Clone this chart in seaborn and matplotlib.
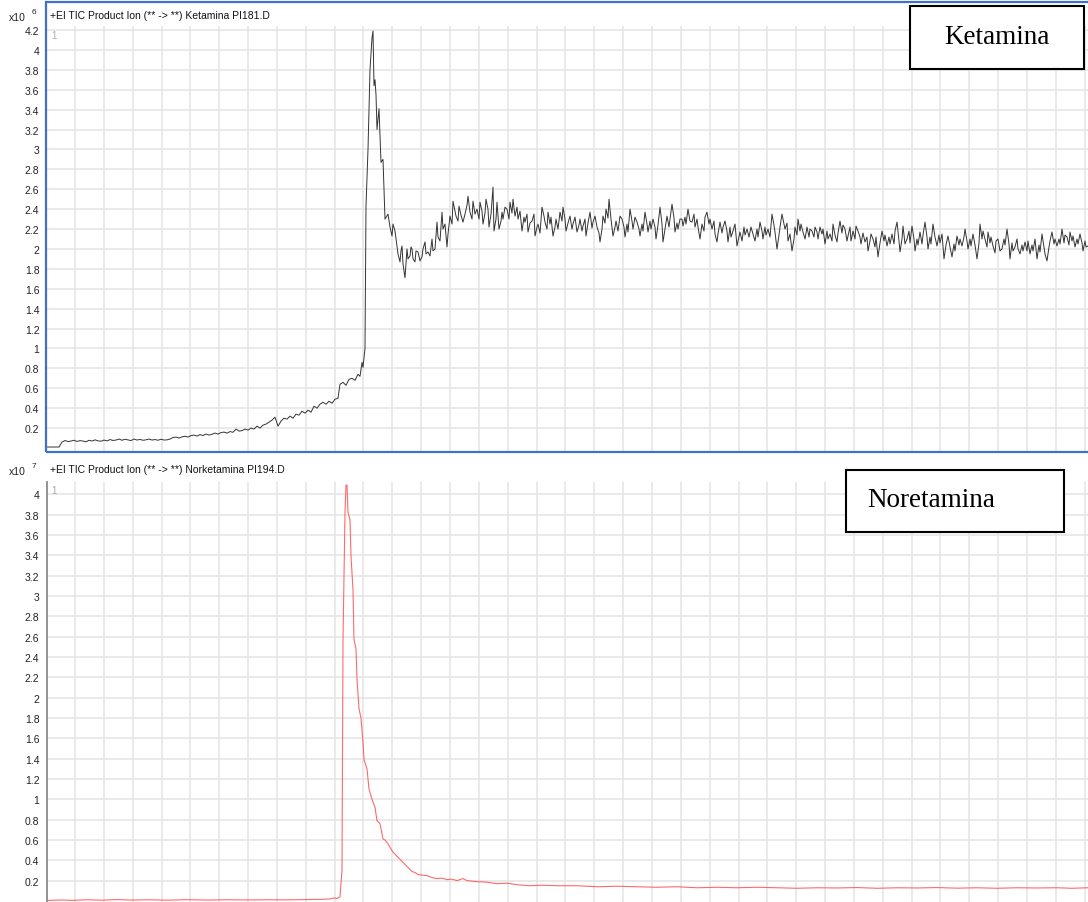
import numpy as np
import pandas as pd
import matplotlib
matplotlib.use("Agg")
import matplotlib.pyplot as plt
from matplotlib.patches import Rectangle
from matplotlib.ticker import MultipleLocator, FixedLocator
import seaborn as sns

# --- acquisition clock (scan number -> minutes) ---
T0 = 2.903
SCAN_DT = 0.1 / 28.85
N_SCANS = 1041

# --- Ketamina PI181 (x10^6) ---
# baseline + slow rise before the peak
ket_scan_pre = [
    0, 12, 15, 18, 21, 24, 27, 30, 33, 36, 39, 42, 45, 48, 51, 54, 57, 60, 63,
    66, 69, 72, 75, 78, 81, 84, 87, 90, 93, 96, 99, 102, 105, 108, 111, 114,
    117, 120, 123,
    126, 129, 132, 135, 138, 141, 144, 147, 150, 153, 156, 159, 162, 165, 168,
    171, 174, 177, 180, 183, 186, 189, 192, 195, 198, 201, 204, 207, 210, 213,
    216, 219, 222, 225, 228, 231, 234, 237, 240, 243, 246, 249, 252, 255, 258,
    261, 264, 267, 270, 273, 276, 279, 282, 285, 288, 291,
]
ket_val_pre = [
    0.01, 0.01, 0.06, 0.075, 0.065, 0.07, 0.078, 0.066, 0.074, 0.07,
    0.062, 0.078, 0.07, 0.082, 0.072, 0.068, 0.08, 0.071, 0.085, 0.076,
    0.08, 0.09, 0.078, 0.088, 0.082, 0.075, 0.09, 0.08, 0.086, 0.078,
    0.082, 0.09, 0.08, 0.085, 0.078, 0.088, 0.08, 0.082, 0.09,
    0.105, 0.11, 0.10, 0.112, 0.118, 0.11, 0.125, 0.13, 0.12, 0.135,
    0.125, 0.14, 0.13, 0.138, 0.15, 0.14, 0.155, 0.16, 0.15, 0.165,
    0.158, 0.19, 0.17, 0.175, 0.19, 0.18, 0.2, 0.19, 0.22, 0.2,
    0.23, 0.24, 0.26, 0.28, 0.31, 0.22, 0.27, 0.3, 0.29, 0.32,
    0.3, 0.34, 0.33, 0.37, 0.35, 0.38, 0.36, 0.42, 0.4, 0.44,
    0.46, 0.44, 0.47, 0.45, 0.49, 0.50,
]
# peak and the dip after it
ket_scan_peak = [
    293, 296, 299, 302, 305, 308, 311, 313, 315, 316,
    318, 319, 321, 323, 325, 326, 327, 328, 329, 330,
    332, 334, 336, 337, 338, 341, 343, 345, 346, 348,
    350, 351, 353, 354, 355, 356, 358, 360, 361, 363,
    364, 365, 366, 368, 369, 371, 373, 375, 376, 378,
    379, 381, 383, 385, 386, 388, 390, 391, 393, 395,
    396, 398, 400, 401,
]
ket_val_peak = [
    0.64, 0.66, 0.63, 0.69, 0.7, 0.68, 0.74, 0.72, 0.86, 0.81,
    1.0, 2.43, 3.0, 3.8, 4.12, 4.19, 3.64, 3.7, 3.55, 3.2,
    3.41, 2.87, 2.9, 2.6, 2.3, 2.35, 2.22, 2.13, 2.25, 2.18,
    2.03, 1.95, 1.87, 1.98, 2.03, 1.85, 1.71, 2.0, 1.90, 1.93,
    2.02, 2.0, 1.90, 1.87, 1.98, 1.97, 1.88, 1.92, 2.00, 2.07,
    1.95, 1.97, 1.93, 2.1, 1.98, 2.0, 2.27, 2.12, 2.08, 2.37,
    2.20, 2.25, 2.02, 2.15,
]
# noisy plateau
ket_scan_tail = [
    403, 405, 406, 408, 409, 411, 412, 414, 416, 418, 420, 421, 423, 425, 426, 428, 430,
    432, 433, 435, 436, 438, 439, 441, 442, 444, 446, 447, 449, 450, 452, 454, 455, 456,
    458, 460, 462, 463, 465, 466, 468, 470, 471, 473, 475, 477, 478, 480, 481, 483, 485, 487, 488,
    490, 491, 493, 495, 497, 498, 500, 501, 503, 504, 506, 508, 509, 511, 513, 515, 516, 518, 519, 521, 523,
    525, 526, 528, 530, 532, 533, 535, 536, 538, 539, 541, 543, 545, 546, 548, 550, 552, 553, 555, 556,
    558, 559, 561, 562, 564, 566, 568, 569, 571, 573, 575, 577, 578, 580, 581, 583, 585, 586, 588, 590, 592, 593,
    595, 596, 598, 600, 601, 603, 604, 606, 608, 609, 611, 613, 615, 616, 618, 620, 622, 623, 625, 627, 628, 630, 631, 633,
    635, 636, 638, 639, 641, 643, 645, 647, 648, 650, 651, 653, 655, 657, 658, 660, 662, 663, 665, 667, 668, 670, 671, 673, 675, 676, 678,
    680, 681, 683, 684, 686, 688, 690, 692, 693, 695, 697, 698, 700, 702, 704, 706, 708, 710, 711, 713, 715, 716, 718, 719, 721, 723, 725,
    727, 728, 730, 732, 733, 735, 737, 738, 740, 741, 743, 745, 747, 748, 750, 751, 753, 754, 756, 758, 760,
    762, 763, 765, 767, 768, 770, 771, 773, 775, 776, 778, 780, 781, 783, 785, 786, 788, 790, 791, 793, 795, 796, 798, 800, 801,
    803, 804, 806, 808, 809, 811, 813, 814, 816, 818, 820, 821, 823, 824, 826, 828, 829, 831, 833, 835, 837, 838, 840, 842, 843, 845,
    847, 848, 850, 852, 853, 855, 856, 858, 860, 862, 863, 865, 867, 868, 870, 871, 873, 875, 876, 878, 880, 881, 883, 884, 886,
    888, 890, 892, 893, 895, 897, 899, 901, 903, 905, 907, 908, 910, 912, 913, 915, 917, 918, 920, 921, 923, 924, 926,
    928, 930, 932, 933, 935, 936, 938, 940, 941, 943, 944, 946, 948, 949, 951, 953, 955, 957, 958, 960, 962, 963, 965, 966, 968,
    970, 971, 973, 975, 976, 978, 980, 981, 983, 985, 986, 988, 990, 992, 993, 995, 997, 998, 1000, 1002, 1003, 1005, 1007, 1008, 1010, 1012, 1013, 1015,
    1017, 1018, 1020, 1022, 1023, 1025, 1026, 1028, 1030, 1031, 1033, 1035, 1036, 1038, 1039, 1041,
]
ket_val_tail = [
    2.33, 2.25, 2.48, 2.38, 2.33, 2.28, 2.43, 2.34, 2.27, 2.35, 2.44, 2.53, 2.37, 2.30, 2.48, 2.35, 2.40,
    2.30, 2.47, 2.38, 2.25, 2.36, 2.50, 2.40, 2.22, 2.35, 2.62, 2.18, 2.30, 2.47, 2.20, 2.28, 2.37, 2.30,
    2.42, 2.40, 2.30, 2.47, 2.36, 2.50, 2.33, 2.42, 2.30, 2.38, 2.18, 2.32, 2.27, 2.35, 2.17, 2.26, 2.28, 2.35, 2.13,
    2.22, 2.25, 2.16, 2.42, 2.33, 2.27, 2.20, 2.37, 2.25, 2.32, 2.13, 2.22, 2.30, 2.20, 2.37, 2.28, 2.42, 2.30, 2.18, 2.26, 2.33,
    2.20, 2.25, 2.32, 2.17, 2.24, 2.30, 2.18, 2.23, 2.30, 2.13, 2.26, 2.37, 2.21, 2.27, 2.33, 2.22, 2.16, 2.07, 2.20, 2.33,
    2.26, 2.40, 2.31, 2.50, 2.30, 2.13, 2.22, 2.28, 2.18, 2.33, 2.30, 2.22, 2.12, 2.25, 2.17, 2.40, 2.28, 2.20, 2.32, 2.27, 2.20, 2.13,
    2.25, 2.18, 2.37, 2.25, 2.17, 2.28, 2.20, 2.30, 2.22, 2.10, 2.24, 2.42, 2.25, 2.07, 2.20, 2.33, 2.22, 2.30, 2.45, 2.31, 2.17, 2.26, 2.20, 2.30,
    2.30, 2.23, 2.32, 2.25, 2.40, 2.28, 2.27, 2.35, 2.22, 2.30, 2.22, 2.10, 2.25, 2.18, 2.32, 2.37, 2.25, 2.30, 2.20, 2.28, 2.15, 2.07, 2.15, 2.27, 2.16, 2.22, 2.28,
    2.18, 2.07, 2.22, 2.12, 2.18, 2.25, 2.03, 2.12, 2.17, 2.08, 2.22, 2.14, 2.20, 2.12, 2.22, 2.15, 2.08, 2.20, 2.12, 2.27, 2.18, 2.10, 2.22, 2.14, 2.20, 2.12, 2.35,
    2.24, 2.17, 2.00, 2.14, 2.22, 2.35, 2.25, 2.20, 2.26, 2.08, 2.15, 1.98, 2.10, 2.22, 2.14, 2.30, 2.18, 2.25, 2.17, 2.10, 2.22,
    2.12, 2.20, 2.18, 2.12, 2.22, 2.17, 2.10, 2.22, 2.15, 2.20, 2.05, 2.18, 2.10, 2.15, 2.08, 2.25, 2.14, 2.07, 2.16, 2.28, 2.16, 2.24, 2.20, 2.08, 2.13,
    2.22, 2.08, 2.18, 2.10, 2.23, 2.18, 2.12, 2.05, 2.16, 2.07, 2.12, 1.98, 2.08, 2.15, 2.10, 2.02, 2.12, 1.92, 2.06, 2.18, 2.08, 2.14, 2.03, 2.12, 2.05, 2.15,
    2.05, 2.18, 2.27, 2.08, 1.97, 2.10, 2.23, 2.05, 2.10, 2.18, 2.06, 2.23, 2.10, 1.98, 2.10, 2.04, 2.17, 2.05, 2.14, 2.27, 2.12, 2.00, 2.12, 2.05, 2.25,
    2.12, 2.03, 2.14, 2.06, 2.15, 1.90, 2.04, 2.13, 2.02, 1.92, 2.05, 1.98, 2.13, 2.04, 2.10, 2.03, 2.12, 2.20, 2.08, 2.00, 2.10, 2.03, 2.15,
    2.04, 1.90, 2.06, 2.25, 2.10, 2.18, 2.10, 2.02, 2.17, 2.06, 2.12, 2.03, 1.96, 2.08, 2.10, 1.98, 2.00, 2.10, 2.04, 2.20, 2.05, 1.90, 2.06, 1.98, 2.02,
    2.10, 2.00, 1.95, 2.04, 1.98, 2.07, 1.98, 2.08, 1.95, 2.04, 1.98, 2.10, 1.90, 2.04, 1.97, 2.15, 2.02, 1.95, 1.88, 2.02, 2.08, 2.17, 2.05, 2.10, 2.03, 2.10, 2.05, 2.20,
    2.06, 2.14, 2.12, 2.04, 2.17, 2.08, 2.13, 2.02, 2.10, 2.05, 2.15, 2.06, 1.98, 2.08, 2.02, 2.03,
]

# --- Norketamina PI194 (x10^7) ---
nor_scan = [
    0, 15, 25, 40, 55, 70, 85, 100, 120, 140,
    160, 180, 200, 220, 240, 260, 275, 283, 287, 290,
    293, 295, 296, 297, 298, 299, 300, 301, 303, 304,
    306, 307, 309, 310, 312, 314, 316, 317, 320, 322,
    325, 328, 330, 333, 336, 338, 341, 346, 350, 353,
    357, 360, 363, 365, 368, 371, 375, 380, 385, 390,
    395, 400, 405, 410, 416, 420, 425, 430, 440, 450,
    460, 470, 483, 495, 510, 530, 550, 570, 590, 610,
    630, 650, 670, 690, 710, 730, 750, 770, 790, 810,
    830, 850, 870, 890, 910, 930, 950, 970, 990, 1010,
    1025, 1041,
]
nor_val = [
    0.005, 0.01, 0.006, 0.012, 0.008, 0.014, 0.009, 0.012, 0.008, 0.013,
    0.009, 0.012, 0.01, 0.012, 0.011, 0.014, 0.016, 0.02, 0.03, 0.025,
    0.04, 0.3, 2.57, 3.19, 3.82, 4.09, 4.09, 3.82, 3.75, 3.39,
    3.06, 2.57, 2.48, 2.18, 1.89, 1.8, 1.56, 1.39, 1.30, 1.10,
    1.0, 0.92, 0.79, 0.76, 0.61, 0.6, 0.56, 0.48, 0.44, 0.41,
    0.37, 0.34, 0.31, 0.29, 0.28, 0.26, 0.255, 0.25, 0.23, 0.22,
    0.225, 0.21, 0.215, 0.2, 0.22, 0.2, 0.195, 0.19, 0.185, 0.17,
    0.175, 0.16, 0.15, 0.155, 0.15, 0.15, 0.14, 0.145, 0.14, 0.135,
    0.14, 0.13, 0.135, 0.13, 0.135, 0.13, 0.125, 0.13, 0.128, 0.132,
    0.125, 0.13, 0.128, 0.132, 0.126, 0.13, 0.125, 0.13, 0.128, 0.13,
    0.125, 0.13,
]

ket_ticks = [0.2, 0.4, 0.6, 0.8, 1, 1.2, 1.4, 1.6, 1.8, 2, 2.2, 2.4, 2.6,
             2.8, 3, 3.2, 3.4, 3.6, 3.8, 4, 4.2]
nor_ticks = [0.2, 0.4, 0.6, 0.8, 1, 1.2, 1.4, 1.6, 1.8, 2, 2.2, 2.4, 2.6,
             2.8, 3, 3.2, 3.4, 3.6, 3.8, 4]

titles = ["+EI TIC Product Ion (** -> **) Ketamina PI181.D",
          "+EI TIC Product Ion (** -> **) Norketamina PI194.D"]
labels = ["Ketamina", "Noretamina"]
exponents = ["6", "7"]

ket_scan = ket_scan_pre + ket_scan_peak + ket_scan_tail
ket_val = ket_val_pre + ket_val_peak + ket_val_tail
assert len(ket_scan_pre) == len(ket_val_pre)
assert len(ket_scan_peak) == len(ket_val_peak)
assert len(ket_scan_tail) == len(ket_val_tail), (len(ket_scan_tail), len(ket_val_tail))
assert len(nor_scan) == len(nor_val)

ket_df = pd.DataFrame({"time": T0 + np.array(ket_scan) * SCAN_DT, "abund": ket_val})
nor_df = pd.DataFrame({"time": T0 + np.array(nor_scan) * SCAN_DT, "abund": nor_val})

sns.set_style("white")
plt.rcParams["font.family"] = ["Liberation Sans", "DejaVu Sans"]

W, H = 1088, 903
fig = plt.figure(figsize=(W / 100, H / 100), dpi=100)


def fx(px):
    return px / W


def fy(py):
    return 1 - py / H


def setup_axis(ax, ticks, ylim):
    ax.set_xlim(T0, T0 + N_SCANS * SCAN_DT)
    ax.set_ylim(*ylim)
    ax.xaxis.set_major_locator(MultipleLocator(0.1))
    ax.yaxis.set_major_locator(FixedLocator(ticks))
    ax.set_yticklabels([f"{t:g}" for t in ticks])
    ax.tick_params(axis="x", length=0, labelbottom=False)
    ax.tick_params(axis="y", length=4, width=0.8, color="#555555",
                   labelsize=7.5, labelcolor="#222222", pad=1.5)
    ax.grid(True, color="#e4e4e4", lw=1.1)
    ax.set_axisbelow(True)
    ax.set_xlabel("")
    ax.set_ylabel("")
    for s in ax.spines.values():
        s.set_visible(False)


# top panel: Ketamina
ax1 = fig.add_axes([fx(47), fy(452), fx(1041), 425 / H])
sns.lineplot(data=ket_df, x="time", y="abund", ax=ax1, color="#333333",
             lw=0.7, estimator=None, sort=False)
setup_axis(ax1, ket_ticks, (-0.03, 4.24))

# bottom panel: Norketamina
ax2 = fig.add_axes([fx(47), 0, fx(1041), 420 / H])
sns.lineplot(data=nor_df, x="time", y="abund", ax=ax2, color="#ff5050",
             lw=0.8, alpha=0.85, estimator=None, sort=False)
setup_axis(ax2, nor_ticks, (-0.01, 4.12))
ax2.spines["left"].set_visible(True)
ax2.spines["left"].set_color("#8a8a8a")
ax2.spines["left"].set_linewidth(1.3)

# selection frame around the top panel
fig.add_artist(Rectangle((fx(46), fy(453)), fx(1100), (453 - 3) / H,
                         transform=fig.transFigure, fill=False,
                         ec="#3d72c9", lw=1.6))

# headers
for ypx, title, exp in [(16, titles[0], exponents[0]), (470, titles[1], exponents[1])]:
    fig.text(fx(50), fy(ypx), title, fontsize=7.5, va="center", color="#111111")
    fig.text(fx(9), fy(ypx + 2), "x10", fontsize=7.5, va="center", color="#222222")
    fig.text(fx(32), fy(ypx - 3), exp, fontsize=6, va="center", color="#222222")

fig.text(fx(51), fy(36), "1", fontsize=7, va="center", color="#aaaaaa")
fig.text(fx(51), fy(491), "1", fontsize=7, va="center", color="#aaaaaa")

# compound label boxes
fig.add_artist(Rectangle((fx(910), fy(70)), fx(174), 63 / H, transform=fig.transFigure,
                         fc="white", ec="black", lw=1.5))
fig.text(fx(997), fy(38), labels[0], fontsize=19.5, family="Liberation Serif",
         ha="center", va="center", color="black")
fig.add_artist(Rectangle((fx(846), fy(533)), fx(218), 62 / H, transform=fig.transFigure,
                         fc="white", ec="black", lw=1.5))
fig.text(fx(867), fy(501), labels[1], fontsize=19.5, family="Liberation Serif",
         ha="left", va="center", color="black")

fig.savefig("out.png", dpi=100)
